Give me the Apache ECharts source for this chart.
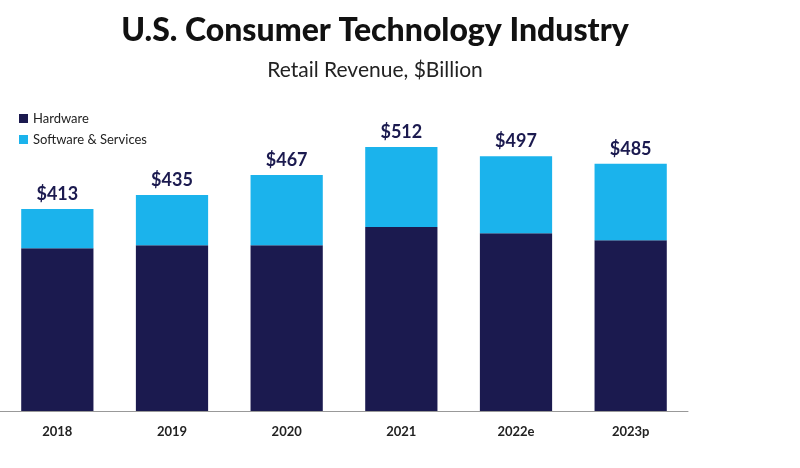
<!DOCTYPE html>
<html><head><meta charset="utf-8">
<script src="https://cdn.jsdelivr.net/npm/echarts@6/dist/echarts.min.js"></script>
<style>html,body{margin:0;padding:0;background:#fff}#c{width:800px;height:468px}</style>
</head><body><div id="c"></div>
<script>
var categories = ['2018','2019','2020','2021','2022e','2023p'];
var hardware = [350, 355, 355, 384, 374, 363];
var software = [63, 80, 112, 128, 123, 122];
var totals = [413, 435, 467, 512, 497, 485];
var prePandemic = 435;
var navy = '#1b1a4f', blue = '#1bb3ec', pink = '#e6329b';
var chart = echarts.init(document.getElementById('c'));
chart.setOption({
  animation:false,
  title:[{text:'U.S. Consumer Technology Industry',left:370,top:10,textAlign:'center',textStyle:{fontFamily:'Lato',fontWeight:900,fontSize:32,color:'#111'}},
         {text:'Retail Revenue, $Billion',left:370,top:55,textAlign:'center',textStyle:{fontFamily:'Lato',fontWeight:'normal',fontSize:21,color:'#222'}}],
  legend:{orient:'vertical',left:14,top:107,itemWidth:9,itemHeight:9,itemGap:8,icon:'rect',
    textStyle:{fontFamily:'Lato',fontSize:13,color:'#222'},data:['Hardware','Software & Services']},
  grid:{left:-6,right:112,top:100,bottom:57},
  xAxis:[{type:'category',data:categories,axisTick:{show:false},axisLine:{lineStyle:{color:'#999'}},
    axisLabel:{fontFamily:'Lato',fontWeight:'bold',fontSize:13,color:'#222',margin:14}},
    {type:'value',min:-0.5,max:5.5,show:false}],
  yAxis:{type:'value',min:90,max:587,show:false},
  series:[
    {name:'Hardware',type:'bar',stack:'a',data:hardware,barCategoryGap:'37%',itemStyle:{color:navy}},
    {name:'Software & Services',type:'bar',stack:'a',data:software,itemStyle:{color:blue},
      label:{show:true,position:'top',distance:6,formatter:function(p){return '$'+totals[p.dataIndex];},
        fontFamily:'Lato',fontWeight:'bold',fontSize:18,color:navy}},
    {type:'line',xAxisIndex:1,data:[[0,prePandemic]],symbol:'none',lineStyle:{opacity:0},clip:false,silent:true,
      markLine:{symbol:'none',silent:true,lineStyle:{color:pink,type:[6,4],width:2},
        label:{position:'end',formatter:'Pre-pandemic',color:pink,fontFamily:'Lato',fontWeight:'bold',fontSize:12,distance:4},
        data:[[{coord:[0.69,prePandemic]},{coord:[5.72,prePandemic]}]]}}
  ]
});
</script></body></html>
